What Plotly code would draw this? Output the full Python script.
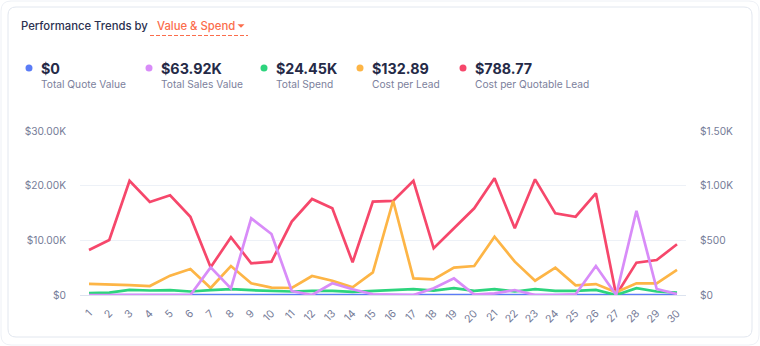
import plotly.graph_objects as go

# ---- data -------------------------------------------------------------
days = list(range(1, 31))
day_labels = [str(d) for d in days]

quote_value = [0, 0, 0, 0, 0, 0, 0, 0, 0, 0, 0, 0, 0, 0, 0,
               0, 0, 0, 0, 0, 0, 0, 0, 0, 0, 0, 0, 0, 0, 0]
sales_value = [0, 0, 0, 0, 0, 0, 5060, 1220, 14020, 11150, 730, 0, 2140, 1040, 130,
               0, 0, 1220, 3050, 60, 310, 910, 0, 0, 130, 5300, 0, 15410, 1100, 180]
total_spend = [330, 440, 940, 820, 880, 640, 880, 1070, 880, 820, 640, 760, 760, 580, 760,
               820, 1070, 820, 1250, 760, 1070, 640, 1070, 760, 760, 940, 0, 1250, 640, 450]
cost_per_lead = [101, 98, 91, 82, 177, 238, 64, 265, 107, 67, 64, 174, 131, 70, 207,
                 862, 152, 143, 250, 265, 533, 305, 131, 250, 89, 100, 25, 107, 107, 229]
cost_per_quotable = [412, 503, 1045, 851, 912, 716, 253, 528, 290, 305, 671, 878, 793, 299, 854,
                     860, 1045, 427, 610, 793, 1067, 610, 1058, 747, 716, 930, 0, 296, 320, 464]

series_names = ["Total Quote Value", "Total Sales Value", "Total Spend",
                "Cost per Lead", "Cost per Quotable Lead"]
series_totals = ["$0", "$63.92K", "$24.45K", "$132.89", "$788.77"]
series_colors = ["#5b7cf6", "#d88cf8", "#2dd47d", "#fdb546", "#f6476b"]

left_ticks = [0, 10000, 20000, 30000]
left_labels = ["$0", "$10.00K", "$20.00K", "$30.00K"]
right_ticks = [0, 500, 1000, 1500]
right_labels = ["$0", "$500", "$1.00K", "$1.50K"]

# ---- geometry ---------------------------------------------------------
W, H = 760, 346
L, R, T, B = 80, 74, 131, 51
PW, PH = W - L - R, H - T - B


def fx(px):
    return (px - L) / PW


def fy(py):
    return (H - B - py) / PH


def rounded_rect(x0, y0, x1, y1, r):
    pts = [
        f"M {fx(x0 + r)} {fy(y0)}",
        f"L {fx(x1 - r)} {fy(y0)}",
        f"Q {fx(x1)} {fy(y0)} {fx(x1)} {fy(y0 + r)}",
        f"L {fx(x1)} {fy(y1 - r)}",
        f"Q {fx(x1)} {fy(y1)} {fx(x1 - r)} {fy(y1)}",
        f"L {fx(x0 + r)} {fy(y1)}",
        f"Q {fx(x0)} {fy(y1)} {fx(x0)} {fy(y1 - r)}",
        f"L {fx(x0)} {fy(y0 + r)}",
        f"Q {fx(x0)} {fy(y0)} {fx(x0 + r)} {fy(y0)}",
        "Z",
    ]
    return " ".join(pts)


FONT = "Inter, 'Noto Sans', sans-serif"
TICK_COLOR = "#767c98"
CORAL = "#fb6d4c"

fig = go.Figure()

# Cost series live on the primary axis (shown on the right); value / spend
# series live on the overlaying axis (shown on the left) so they draw on top.
fig.add_trace(go.Scatter(x=days, y=cost_per_quotable, name=series_names[4], mode="lines",
                         line=dict(color=series_colors[4], width=2.7), yaxis="y"))
fig.add_trace(go.Scatter(x=days, y=cost_per_lead, name=series_names[3], mode="lines",
                         line=dict(color=series_colors[3], width=2.7), yaxis="y"))
fig.add_trace(go.Scatter(x=days, y=quote_value, name=series_names[0], mode="lines",
                         line=dict(color=series_colors[0], width=2.7), yaxis="y2"))
fig.add_trace(go.Scatter(x=days, y=total_spend, name=series_names[2], mode="lines",
                         line=dict(color=series_colors[2], width=2.7), yaxis="y2"))
fig.add_trace(go.Scatter(x=days, y=sales_value, name=series_names[1], mode="lines",
                         line=dict(color=series_colors[1], width=2.7), yaxis="y2"))

shapes = [
    dict(type="path", xref="paper", yref="paper", layer="below",
         path=rounded_rect(1, 1, 759, 345, 10),
         line=dict(color="#eef1f6", width=1), fillcolor="rgba(0,0,0,0)"),
    dict(type="path", xref="paper", yref="paper", layer="below",
         path=rounded_rect(8, 7, 752, 337, 8),
         line=dict(color="#e2e7ef", width=1), fillcolor="white"),
    # dashed underline of the selector
    dict(type="line", xref="paper", yref="paper",
         x0=fx(150), x1=fx(248), y0=fy(35.5), y1=fy(35.5),
         line=dict(color=CORAL, width=1, dash="4px,2px")),
    # selector caret
    dict(type="path", xref="paper", yref="paper",
         path=f"M {fx(237.5)} {fy(24.3)} L {fx(244.5)} {fy(24.3)} L {fx(241)} {fy(27.8)} Z",
         line=dict(color=CORAL, width=0), fillcolor=CORAL),
]

annotations = [
    dict(text="Performance Trends by", x=fx(19), y=fy(26), xref="paper", yref="paper",
         xanchor="left", yanchor="middle", showarrow=False,
         font=dict(family=FONT, size=11.3, weight=500, color="#2c3150")),
    dict(text="Value & Spend", x=fx(155), y=fy(26), xref="paper", yref="paper",
         xanchor="left", yanchor="middle", showarrow=False,
         font=dict(family=FONT, size=11.3, weight=500, color=CORAL)),
]

item_x = [40, 160, 275, 371, 474]
for name, total, color, ix in zip(series_names, series_totals, series_colors, item_x):
    shapes.append(dict(type="circle", xref="paper", yref="paper",
                       xsizemode="pixel", ysizemode="pixel",
                       xanchor=fx(ix - 11), yanchor=fy(68),
                       x0=-3.5, x1=3.5, y0=-3.5, y1=3.5,
                       line=dict(width=0), fillcolor=color))
    annotations.append(dict(text=f"<b>{total}</b>", x=fx(ix - 1), y=fy(68),
                            xref="paper", yref="paper", xanchor="left", yanchor="middle",
                            showarrow=False,
                            font=dict(family=FONT, size=14.3, color="#252a47")))
    annotations.append(dict(text=name, x=fx(ix - 1), y=fy(83.5),
                            xref="paper", yref="paper", xanchor="left", yanchor="middle",
                            showarrow=False,
                            font=dict(family=FONT, size=10.2, color="#7c819c")))

fig.update_layout(
    width=W, height=H,
    margin=dict(l=L, r=R, t=T, b=B, pad=0),
    paper_bgcolor="white", plot_bgcolor="rgba(0,0,0,0)",
    showlegend=False,
    font=dict(family=FONT, color=TICK_COLOR),
    xaxis=dict(range=[0.556, 30.444], tickmode="array", tickvals=days, ticktext=day_labels,
               tickangle=-45, showgrid=False, zeroline=False,
               showline=True, linecolor="#dce3ef", linewidth=1,
               ticks="", ticklabelstandoff=7,
               tickfont=dict(family=FONT, size=10.6, color=TICK_COLOR)),
    yaxis=dict(range=[0, 1500], side="right", tickmode="array",
               tickvals=right_ticks, ticktext=right_labels,
               showgrid=True, gridcolor="#edf1f7", gridwidth=1, zeroline=False,
               ticks="", ticklabelstandoff=13,
               tickfont=dict(family=FONT, size=10.2, color=TICK_COLOR)),
    yaxis2=dict(range=[0, 30000], side="left", overlaying="y", tickmode="array",
                tickvals=left_ticks, ticktext=left_labels,
                showgrid=False, zeroline=False,
                ticks="", ticklabelstandoff=13,
                tickfont=dict(family=FONT, size=10.2, color=TICK_COLOR)),
    shapes=shapes,
    annotations=annotations,
)

fig.write_html("out.html")
